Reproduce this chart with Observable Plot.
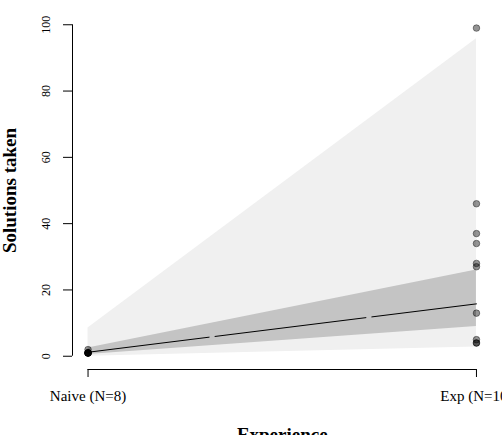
<!DOCTYPE html>
<html>
<head>
<meta charset="utf-8">
<script src="https://cdn.jsdelivr.net/npm/d3@7"></script>
<script src="https://cdn.jsdelivr.net/npm/@observablehq/plot@0.6"></script>
<style>
  html, body { margin: 0; padding: 0; background: white; overflow: hidden; }
</style>
</head>
<body>
<div id="chart"></div>
<script>
// Groups on the x axis (0 = naive, 1 = experienced)
const groups = ["Naive (N=8)", "Exp (N=10)"];
const groupPos = [0, 1];

// Observed solutions taken per individual
const naiveSolutions = [1, 1, 1, 1, 1, 1, 2, 1];
const expSolutions = [99, 46, 37, 34, 28, 27, 13, 5, 4, 4];

// Model fit: prediction interval, confidence interval and fitted mean
const predLower = [0, 2.8];
const predUpper = [8.5, 95.8];
const ciLower = [0.5, 9];
const ciUpper = [2.5, 26];
const fitted = [1.2, 15.8];

const yTicks = [0, 20, 40, 60, 80, 100];

const bands = groupPos.map((x, i) => ({
  x, predLo: predLower[i], predHi: predUpper[i],
  ciLo: ciLower[i], ciHi: ciUpper[i], fit: fitted[i]
}));
const points = [
  ...naiveSolutions.map(v => ({x: groupPos[0], v})),
  ...expSolutions.map(v => ({x: groupPos[1], v}))
];

const chart = Plot.plot({
  width: 502,
  height: 435,
  marginLeft: 72,
  marginRight: 10.5,
  marginTop: 11,
  marginBottom: 66,
  style: {fontFamily: "'Liberation Serif', 'Times New Roman', serif", background: "white", color: "black"},
  x: {domain: [-0.04, 1.04], axis: null},
  y: {domain: [-4, 104], axis: null},
  marks: [
    Plot.areaY(bands, {x: "x", y1: "predLo", y2: "predHi", fill: "#f0f0f0"}),
    Plot.areaY(bands, {x: "x", y1: "ciLo", y2: "ciHi", fill: "#c4c4c4"}),
    Plot.line(bands, {x: "x", y: "fit", stroke: "black", strokeWidth: 1,
      strokeDasharray: "152,6", strokeDashoffset: 30}),
    Plot.dot(points, {x: "x", y: "v", r: 3.3, fill: "black", fillOpacity: 0.42,
      stroke: "black", strokeOpacity: 0.5, strokeWidth: 0.8}),
    // y axis
    Plot.ruleX([-0.04], {y1: 0, y2: 100, stroke: "black"}),
    Plot.axisY({ticks: yTicks, tickSize: 9, tickFormat: () => "", label: null, stroke: "black"}),
    Plot.text(yTicks, {x: -0.04, y: d => d, text: d => String(d), rotate: -90, dx: -26,
      fontSize: 12, fill: "black"}),
    // x axis
    Plot.ruleY([-4], {x1: 0, x2: 1, stroke: "black"}),
    Plot.axisX({ticks: groupPos, tickFormat: i => groups[i], tickSize: 8, tickPadding: 13,
      fontSize: 15, label: null, anchor: "bottom", stroke: "black", fill: "black"}),
    // axis titles
    Plot.text(["Solutions taken"], {frameAnchor: "left", textAnchor: "middle", rotate: -90, dx: -63,
      fontSize: 19, fontWeight: "bold", fill: "black"}),
    Plot.text(["Experience"], {frameAnchor: "bottom", x: 0.5, dy: 58, lineAnchor: "top",
      fontSize: 19, fontWeight: "bold", fill: "black"})
  ]
});

document.getElementById("chart").appendChild(chart);
</script>
</body>
</html>
